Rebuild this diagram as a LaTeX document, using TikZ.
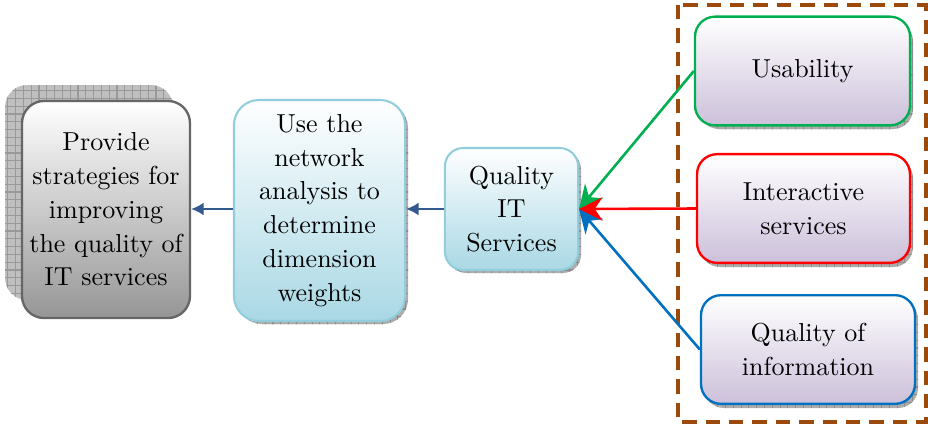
\documentclass[tikz,border=0pt]{standalone}
\usetikzlibrary{arrows.meta,patterns,calc}
\definecolor{boxgrey}{HTML}{969696}
\definecolor{greyline}{HTML}{666666}
\definecolor{lblue}{HTML}{A9D8E5}
\definecolor{lblueline}{HTML}{92CDDC}
\definecolor{lav}{HTML}{CCC0DA}
\definecolor{cgreen}{HTML}{00B050}
\definecolor{cred}{HTML}{FF0000}
\definecolor{cblue}{HTML}{0070C0}
\definecolor{brown}{HTML}{9C4A0C}
\definecolor{dblue}{HTML}{34598F}
\tikzset{
  base/.style={rectangle, inner sep=0pt, align=center, text=black, font=\fontsize{10}{13}\selectfont},
  greybox/.style={base, draw=greyline, line width=0.9pt, top color=white, bottom color=boxgrey, rounded corners=8.5pt},
  bluebox/.style={base, draw=lblueline, line width=0.8pt, top color=white, bottom color=lblue},
  lavbox/.style={base, line width=0.9pt, top color=white, bottom color=lav, rounded corners=7.7pt, minimum height=41.8pt},
  shadowbox/.style={fill=gray!50, postaction={pattern=grid, pattern color=gray!80}},
  smallshadow/.style={fill=gray!65, postaction={pattern=grid, pattern color=gray!90}},
  navy/.style={draw=dblue, line width=0.8pt, -{Latex[length=4.8pt,width=5pt]}},
  feed/.style={line width=1pt, -{Stealth[length=9pt,width=9pt,inset=3pt]}},
}
\begin{document}
\begin{tikzpicture}[x=0.3846pt,y=-0.3846pt]
\useasboundingbox (0,0) rectangle (928,426);
% dashed frame
\draw[brown, line width=1.35pt, dash pattern=on 5.5pt off 3.5pt] (678,5) rectangle (926,422);
% shadows
\path[shadowbox, rounded corners=8.5pt] (5,85) rectangle (173,300);
\path[smallshadow, rounded corners=9.6pt] (237,103) rectangle (408,324);
\path[smallshadow, rounded corners=7pt] (448,151) rectangle (581,273);
\path[smallshadow, rounded corners=7.7pt] (699,21) rectangle (913,129);
\path[smallshadow, rounded corners=7.7pt] (700,158) rectangle (913,267);
\path[smallshadow, rounded corners=7.7pt] (704,299) rectangle (918,408);
% boxes
\node[greybox, minimum width=64.6pt, minimum height=83.5pt] (A) at (106,209.5)
  {Provide\\strategies for\\improving\\the quality of\\IT services};
\node[bluebox, rounded corners=9.6pt, minimum width=65.8pt, minimum height=85pt] (B) at (319.5,210.5)
  {Use the\\network\\analysis to\\determine\\dimension\\weights};
\node[bluebox, rounded corners=7pt, minimum width=51.2pt, minimum height=46.9pt] (C) at (511.5,209)
  {Quality\\IT\\Services};
\node[lavbox, draw=cgreen, minimum width=82.7pt] (D) at (802.5,71) {Usability};
\node[lavbox, draw=cred, minimum width=81.9pt] (E) at (803.5,208.5) {Interactive\\services};
\node[lavbox, draw=cblue, minimum width=82.3pt] (F) at (808,349.5) {Quality of\\information};
% connectors
\draw[navy] (C.west) -- (C.west -| B.east);
\draw[navy] (B.west |- C.west) -- (C.west -| A.east);
\draw[feed, cgreen] (D.west) -- (C.east);
\draw[feed, cblue] (F.west) -- (C.east);
\draw[feed, cred] (E.west) -- (C.east);
\end{tikzpicture}
\end{document}
